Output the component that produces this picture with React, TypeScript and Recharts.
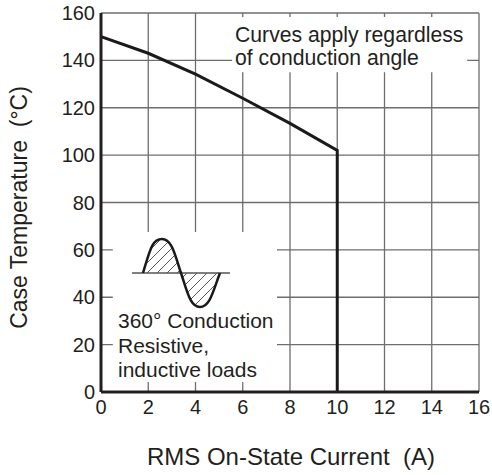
import React from 'react';
import { LineChart, Line, XAxis, YAxis, CartesianGrid, ReferenceArea } from 'recharts';

const currentA = [0, 2, 4, 6, 8, 10, 10];
const caseTempC = [150, 143, 134.2, 124, 113.4, 102, 0];
const xTicks = [0, 2, 4, 6, 8, 10, 12, 14, 16];
const yTicks = [0, 20, 40, 60, 80, 100, 120, 140, 160];
const topNote = ['Curves apply regardless', 'of conduction angle'];
const bottomNote = ['360° Conduction', 'Resistive,', 'inductive loads'];
const xLabel = 'RMS On-State Current\u00a0\u00a0(A)';
const yLabel = 'Case Temperature\u00a0\u00a0(°C)';

const data = currentA.map((x, i) => ({ x, y: caseTempC[i] }));

const FONT = '"Liberation Sans", Arial, Helvetica, sans-serif';
const TXT = '#231f20';
const FRAME = { stroke: '#231f20', strokeWidth: 3 };

const Overlay = () => (
  <svg width={492} height={475} style={{ position: 'absolute', left: 0, top: 0, pointerEvents: 'none' }}>
    <g fontFamily={FONT} fill={TXT}>
      <defs>
        <pattern id="hatch" patternUnits="userSpaceOnUse" width="10" height="10">
          <line x1="0" y1="10" x2="10" y2="0" stroke="#444" strokeWidth="0.9" />
          <line x1="-2" y1="2" x2="2" y2="-2" stroke="#444" strokeWidth="0.9" />
          <line x1="8" y1="12" x2="12" y2="8" stroke="#444" strokeWidth="0.9" />
        </pattern>
      </defs>
      {topNote.map((t, i) => (
        <text key={t} x={235} y={41.5 + i * 23} fontSize={21.2}>{t}</text>
      ))}
      {bottomNote.map((t, i) => (
        <text key={t} x={118} y={328 + i * 24.5} fontSize={21}>{t}</text>
      ))}
      <path d="M143,273 C150,250 152,239 162,239 C172,239 175,255 181,273 Z" fill="url(#hatch)" stroke="none" />
      <path d="M181,273 C187,291 190,307 200,307 C210,307 213,291 220,273 Z" fill="url(#hatch)" stroke="none" />
      <line x1={132} y1={273} x2={230} y2={273} stroke="#555" strokeWidth={1.5} />
      <path d="M143,273 C150,250 152,239 162,239 C172,239 175,255 181,273 C187,291 190,307 200,307 C210,307 213,291 220,273" fill="none" stroke="#1a1a1a" strokeWidth={2.5} />
      <text x={291} y={465} fontSize={24} textAnchor="middle">{xLabel}</text>
      <text x={27} y={207.5} fontSize={23} textAnchor="middle" transform="rotate(-90, 27, 207.5)">{yLabel}</text>
    </g>
  </svg>
);

export default function App() {
  return (
    <div style={{ position: 'absolute', left: 0, top: 0, width: 492, height: 475, background: '#fff' }}>
      <LineChart width={492} height={475} data={data} margin={{ top: 13, right: 13, bottom: 0, left: 0 }}>
        <CartesianGrid stroke="#6e6e6e" strokeWidth={1.3} />
        <XAxis
          dataKey="x"
          type="number"
          domain={[0, 16]}
          ticks={xTicks}
          height={83}
          axisLine={FRAME}
          tickLine={false}
          tick={{ fontSize: 20, fill: TXT, fontFamily: FONT }}
          interval={0}
        />
        <XAxis
          xAxisId="top"
          orientation="top"
          dataKey="x"
          type="number"
          domain={[0, 16]}
          ticks={xTicks}
          height={0}
          axisLine={FRAME}
          tickLine={false}
          tick={false}
        />
        <YAxis
          type="number"
          domain={[0, 160]}
          ticks={yTicks}
          width={101}
          axisLine={FRAME}
          tickLine={false}
          tickSize={4}
          tick={{ fontSize: 20, fill: TXT, fontFamily: FONT }}
          interval={0}
        />
        <YAxis
          yAxisId="right"
          orientation="right"
          type="number"
          domain={[0, 160]}
          ticks={yTicks}
          width={0}
          axisLine={FRAME}
          tickLine={false}
          tick={false}
        />
        <ReferenceArea x1={5.55} x2={15.5} y1={135} y2={158.3} fill="#fff" fillOpacity={1} stroke="none" />
        <ReferenceArea x1={0.5} x2={7.45} y1={4.2} y2={67.5} fill="#fff" fillOpacity={1} stroke="none" />
        <Line
          dataKey="y"
          type="linear"
          stroke="#1a1a1a"
          strokeWidth={3}
          dot={false}
          isAnimationActive={false}
        />
      </LineChart>
      <Overlay />
    </div>
  );
}
